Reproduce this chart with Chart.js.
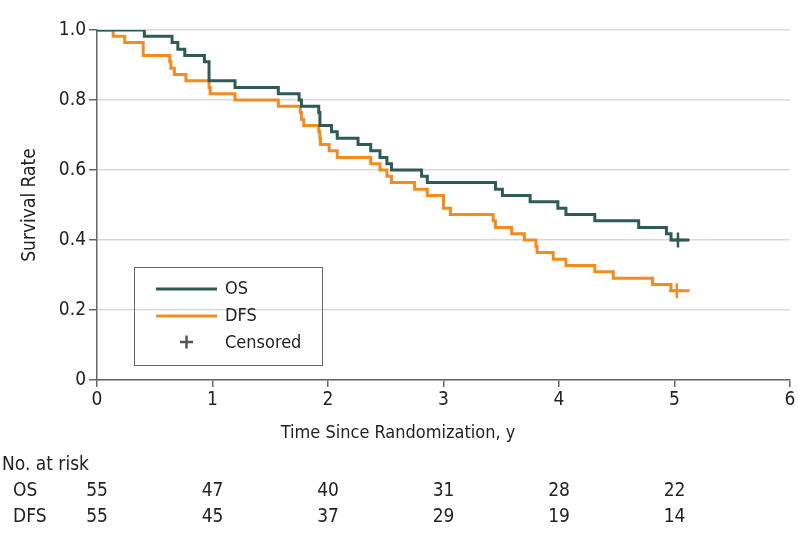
<!DOCTYPE html>
<html>
<head>
<meta charset="utf-8">
<script src="https://cdn.jsdelivr.net/npm/chart.js@4.4.1/dist/chart.umd.min.js"></script>
<style>
  body { margin: 0; background: #fff; }
  #wrap { width: 798px; height: 546px; }
</style>
</head>
<body>
<div id="wrap"><canvas id="km" width="798" height="546"></canvas></div>
<script>
// Data
const osTimes = [0, 0.41, 0.65, 0.70, 0.76, 0.93, 0.97, 1.195, 1.57, 1.75,
    1.77, 1.92, 1.93, 2.03, 2.08, 2.26, 2.37, 2.45, 2.51, 2.55,
    2.81, 2.86, 3.45, 3.51, 3.75, 3.99, 4.06, 4.31, 4.69, 4.93,
    4.97, 5.13]
const osSurv = [1.0, 0.982, 0.964, 0.945, 0.927, 0.909, 0.855, 0.836, 0.818, 0.800,
    0.782, 0.764, 0.727, 0.709, 0.691, 0.673, 0.655, 0.636, 0.618, 0.600,
    0.582, 0.564, 0.545, 0.527, 0.509, 0.491, 0.473, 0.455, 0.436, 0.418,
    0.400, 0.400]
const dfsTimes = [0, 0.14, 0.24, 0.40, 0.63, 0.64, 0.67, 0.77, 0.97, 0.98,
    1.195, 1.57, 1.76, 1.77, 1.79, 1.92, 1.93, 1.935, 2.01, 2.08,
    2.37, 2.45, 2.51, 2.55, 2.75, 2.86, 3.0, 3.06, 3.43, 3.45,
    3.59, 3.70, 3.80, 3.81, 3.95, 4.06, 4.31, 4.47, 4.81, 4.97,
    5.13]
const dfsSurv = [1.0, 0.982, 0.964, 0.927, 0.909, 0.891, 0.873, 0.855, 0.836, 0.818,
    0.800, 0.782, 0.764, 0.745, 0.727, 0.709, 0.691, 0.673, 0.655, 0.636,
    0.618, 0.600, 0.582, 0.564, 0.545, 0.527, 0.491, 0.473, 0.455, 0.436,
    0.418, 0.400, 0.382, 0.364, 0.345, 0.327, 0.309, 0.291, 0.273, 0.255,
    0.255]
const osCensorT = [5.03]
const osCensorS = [0.400]
const dfsCensorT = [5.02]
const dfsCensorS = [0.255]

const riskTimes = [0, 1, 2, 3, 4, 5]
const osRisk = [55, 47, 40, 31, 28, 22]
const dfsRisk = [55, 45, 37, 29, 19, 14]

const OS_COLOR = '#2f5a55'
const DFS_COLOR = '#f38b1f'
const FONT = "'DejaVu Sans Condensed', 'Noto Sans', sans-serif"

const pts = (xs, ys) => xs.map((x, i) => ({x: x, y: ys[i]}))

// Legend box + at-risk table + x title
const extras = {
    id: 'extras',
    afterDraw(chart) {
        const ctx = chart.ctx
        const xs = chart.scales.x
        ctx.save()
        // legend box
        ctx.strokeStyle = '#666'
        ctx.lineWidth = 1
        ctx.strokeRect(134.5, 267.5, 188, 98)
        ctx.lineWidth = 3
        ctx.strokeStyle = OS_COLOR
        ctx.beginPath(); ctx.moveTo(156, 289); ctx.lineTo(217, 289); ctx.stroke()
        ctx.strokeStyle = DFS_COLOR
        ctx.beginPath(); ctx.moveTo(156, 316); ctx.lineTo(217, 316); ctx.stroke()
        ctx.strokeStyle = '#555'
        ctx.lineWidth = 2.5
        ctx.beginPath()
        ctx.moveTo(180, 342); ctx.lineTo(193, 342)
        ctx.moveTo(186.5, 335.5); ctx.lineTo(186.5, 348.5)
        ctx.stroke()
        ctx.fillStyle = '#222'
        ctx.font = '18px ' + FONT
        ctx.textBaseline = 'middle'
        ctx.textAlign = 'left'
        ctx.fillText('OS', 225, 289)
        ctx.fillText('DFS', 225, 316)
        ctx.fillText('Censored', 225, 343)

        // x axis title, centred on the page
        ctx.textAlign = 'center'
        ctx.font = '18px ' + FONT
        ctx.fillText('Time Since Randomization, y', 398, 433)

        // number at risk
        ctx.textAlign = 'left'
        ctx.font = '19px ' + FONT
        ctx.fillText('No. at risk', 2, 465)
        ctx.fillText('OS', 13, 491)
        ctx.fillText('DFS', 13, 517)
        ctx.textAlign = 'center'
        riskTimes.forEach((t, i) => {
            const px = xs.getPixelForValue(t)
            ctx.fillText(String(osRisk[i]), px, 491)
            ctx.fillText(String(dfsRisk[i]), px, 517)
        })
        ctx.restore()
    }
}

const config = {
    type: 'line',
    data: {
        datasets: [
            {
                label: 'OS',
                data: pts(osTimes, osSurv),
                borderColor: OS_COLOR,
                borderWidth: 3,
                stepped: 'before',
                pointRadius: 0,
                fill: false
            },
            {
                label: 'DFS',
                data: pts(dfsTimes, dfsSurv),
                borderColor: DFS_COLOR,
                borderWidth: 3,
                stepped: 'before',
                pointRadius: 0,
                fill: false
            },
            {
                label: 'OS censored',
                data: pts(osCensorT, osCensorS),
                showLine: false,
                pointStyle: 'cross',
                pointRadius: 7.5,
                borderColor: OS_COLOR,
                borderWidth: 2.5
            },
            {
                label: 'DFS censored',
                data: pts(dfsCensorT, dfsCensorS),
                showLine: false,
                pointStyle: 'cross',
                pointRadius: 7.5,
                borderColor: DFS_COLOR,
                borderWidth: 2.5
            }
        ]
    },
    options: {
        responsive: false,
        animation: false,
        layout: { autoPadding: false, padding: { left: 0, right: 8, top: 30, bottom: 0 } },
        plugins: {
            legend: { display: false },
            tooltip: { enabled: false }
        },
        scales: {
            x: {
                type: 'linear',
                min: 0,
                max: 6,
                ticks: { stepSize: 1, color: '#222', font: { size: 19, family: FONT }, padding: 2 },
                grid: { drawOnChartArea: false, tickLength: 7, tickColor: '#666', lineWidth: 1.5 },
                border: { color: '#666', width: 1.5 },
                afterFit: (s) => { s.height = 166; s.paddingRight = 0; s.paddingLeft = 0 }
            },
            y: {
                min: 0,
                max: 1,
                ticks: {
                    stepSize: 0.2,
                    color: '#222',
                    font: { size: 19, family: FONT },
                    padding: 3,
                    callback: (v) => v === 0 ? '0' : v.toFixed(1)
                },
                grid: { color: '#d9d9d9', lineWidth: 1.5, tickLength: 8, tickColor: '#666' },
                border: { color: '#666', width: 1.5 },
                title: { display: true, text: 'Survival Rate', color: '#222', font: { size: 19, family: FONT }, padding: { top: 19, bottom: 0 } },
                afterFit: (s) => { s.width = 97 }
            }
        }
    },
    plugins: [extras]
}

const kmChart = new Chart(document.getElementById('km'), config)
</script>
</body>
</html>
